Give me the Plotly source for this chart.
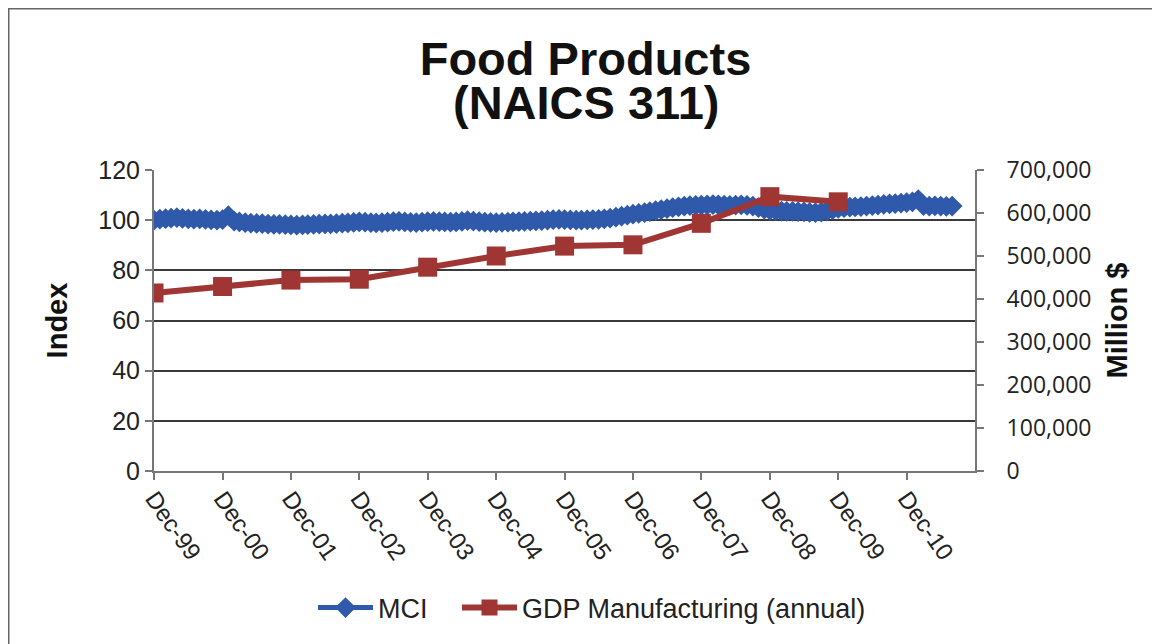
import plotly.graph_objects as go
import pandas as pd

# ---- data ----
mci_start = "1999-12-01"
mci_values = [
    100.0,
    # 2000
    100.4, 100.6, 100.8, 101.0, 100.7, 100.5, 100.4, 100.5, 100.3, 100.1, 100.0, 100.2,
    # 2001
    101.8, 99.6, 99.3, 99.0, 98.8, 98.7, 98.6, 98.4, 98.3, 98.3, 98.2, 98.1,
    # 2002
    98.0, 98.1, 98.2, 98.3, 98.4, 98.5, 98.5, 98.6, 98.8, 98.9, 99.1, 99.3,
    # 2003
    99.2, 99.0, 98.9, 99.0, 99.2, 99.4, 99.5, 99.3, 99.1, 99.0, 99.2, 99.4,
    # 2004
    99.5, 99.4, 99.3, 99.2, 99.3, 99.5, 99.8, 99.6, 99.4, 99.2, 99.1, 99.0,
    # 2005
    99.1, 99.2, 99.3, 99.4, 99.5, 99.6, 99.7, 99.8, 100.0, 100.2, 100.3, 100.2,
    # 2006
    100.1, 100.0, 100.0, 100.1, 100.2, 100.3, 100.5, 100.8, 101.2, 101.6, 102.0, 102.4,
    # 2007
    102.7, 103.0, 103.4, 103.8, 104.2, 104.6, 105.0, 105.3, 105.6, 105.8, 105.9, 106.0,
    # 2008
    106.1, 106.2, 106.1, 106.0, 105.9, 106.0, 106.1, 105.9, 105.6, 105.0, 104.4, 104.0,
    # 2009
    103.8, 103.6, 103.5, 103.5, 103.4, 103.3, 103.1, 103.0, 103.2, 103.6, 104.2, 104.7,
    # 2010
    105.0, 105.2, 105.3, 105.4, 105.6, 105.8, 106.0, 106.3, 106.5, 106.6, 106.8, 107.0,
    # 2011
    107.3, 108.2, 105.8, 105.6, 105.7, 105.6, 105.5, 105.6,
]
mci_dates = pd.date_range(mci_start, periods=len(mci_values), freq="MS")

gdp_dates = ["1999-12-01", "2000-12-01", "2001-12-01", "2002-12-01", "2003-12-01",
             "2004-12-01", "2005-12-01", "2006-12-01", "2007-12-01", "2008-12-01",
             "2009-12-01"]
gdp_values = [414000, 429000, 444000, 446000, 474000, 500000, 523000, 526000,
              576000, 638000, 626000]

tick_dates = ["1999-12-01", "2000-12-01", "2001-12-01", "2002-12-01", "2003-12-01",
              "2004-12-01", "2005-12-01", "2006-12-01", "2007-12-01", "2008-12-01",
              "2009-12-01", "2010-12-01"]
tick_labels = ["Dec-99", "Dec-00", "Dec-01", "Dec-02", "Dec-03", "Dec-04",
               "Dec-05", "Dec-06", "Dec-07", "Dec-08", "Dec-09", "Dec-10"]
left_ticks = [0, 20, 40, 60, 80, 100, 120]
right_ticks = [0, 100000, 200000, 300000, 400000, 500000, 600000, 700000]
right_labels = ["0", "100,000", "200,000", "300,000", "400,000", "500,000",
                "600,000", "700,000"]
title_line1 = "Food Products"
title_line2 = "(NAICS 311)"

BLUE = "#2F59AA"
RED = "#A03634"
ARIAL = "Liberation Sans, Arial, sans-serif"

# page body has an 8px margin: figure is drawn at offset (8, 8)
W, H = 1152, 636
L, T, PW, PH = 146, 162, 821, 301
R, B = W - L - PW, H - T - PH


def py(yfig):
    return (T + PH - yfig) / PH


def px(xfig):
    return (xfig - L) / PW


fig = go.Figure()
fig.add_trace(go.Scatter(
    x=mci_dates, y=mci_values, name="MCI", mode="lines+markers",
    line=dict(color=BLUE, width=5),
    marker=dict(symbol="diamond", size=16, color=BLUE),
    yaxis="y", legend="legend",
))
fig.add_trace(go.Scatter(
    x=gdp_dates, y=gdp_values, name="GDP Manufacturing (annual)", mode="lines+markers",
    line=dict(color=RED, width=6),
    marker=dict(symbol="square", size=19, color=RED),
    yaxis="y2", legend="legend2",
))

legend_style = dict(
    orientation="h", xanchor="left", y=py(600), yanchor="middle",
    font=dict(family=ARIAL, size=27, color="#222222"),
    itemwidth=55, bgcolor="rgba(0,0,0,0)",
)

fig.update_layout(
    width=W, height=H,
    margin=dict(l=L, r=R, t=T, b=B),
    paper_bgcolor="white", plot_bgcolor="white",
    font=dict(family=ARIAL, color="#222222"),
    title=dict(
        text=title_line1,
        font=dict(family=ARIAL, size=47, color="#111111", weight="bold"),
        x=577.5 / W, xanchor="center", xref="container",
        y=1 - 51 / H, yanchor="middle", yref="container",
    ),
    xaxis=dict(
        type="date",
        range=["1999-12-01", "2011-12-01"],
        tickvals=tick_dates, ticktext=tick_labels,
        tickangle=55,
        tickfont=dict(family=ARIAL, size=24, color="#222222"),
        ticks="outside", ticklen=7, tickcolor="#777777", tickwidth=2,
        ticklabelstandoff=-5,
        showline=True, linecolor="#777777", linewidth=2,
        showgrid=False, zeroline=False,
    ),
    yaxis=dict(
        range=[0, 120], tickvals=left_ticks,
        tickfont=dict(family=ARIAL, size=25, color="#222222"),
        ticks="outside", ticklen=7, tickcolor="#777777", tickwidth=2,
        showline=True, linecolor="#777777", linewidth=2,
        showgrid=True, gridcolor="#3a3a3a", gridwidth=1.5,
        zeroline=False,
        title=dict(text="<b>Index</b>", font=dict(family=ARIAL, size=29, color="#111111"),
                   standoff=22),
    ),
    yaxis2=dict(
        range=[0, 700000], tickvals=right_ticks, ticktext=right_labels,
        overlaying="y", side="right",
        tickfont=dict(family="Open Sans, sans-serif", size=23, color="#222222"),
        ticks="outside", ticklen=7, tickcolor="#777777", tickwidth=2,
        ticklabelstandoff=18,
        showline=True, linecolor="#777777", linewidth=2,
        showgrid=False, zeroline=False,
        title=dict(text="<b>Million $</b>", font=dict(family=ARIAL, size=29, color="#111111"),
                   standoff=16),
    ),
    legend=dict(x=px(305), **legend_style),
    legend2=dict(x=px(449), **legend_style),
    showlegend=True,
)

fig.add_annotation(
    text=title_line2, xref="paper", yref="paper",
    x=px(577.5), y=py(94), xanchor="center", yanchor="middle",
    showarrow=False,
    font=dict(family=ARIAL, size=47, color="#111111", weight="bold"),
)

# chart frame (top and left edges visible in the reference)
fig.add_shape(type="line", xref="paper", yref="paper",
              x0=px(0), x1=px(W + 10), y0=py(0.5), y1=py(0.5),
              line=dict(color="#666666", width=2))
fig.add_shape(type="line", xref="paper", yref="paper",
              x0=px(0.5), x1=px(0.5), y0=py(0), y1=py(H + 10),
              line=dict(color="#666666", width=2))

fig.write_html("out.html")
